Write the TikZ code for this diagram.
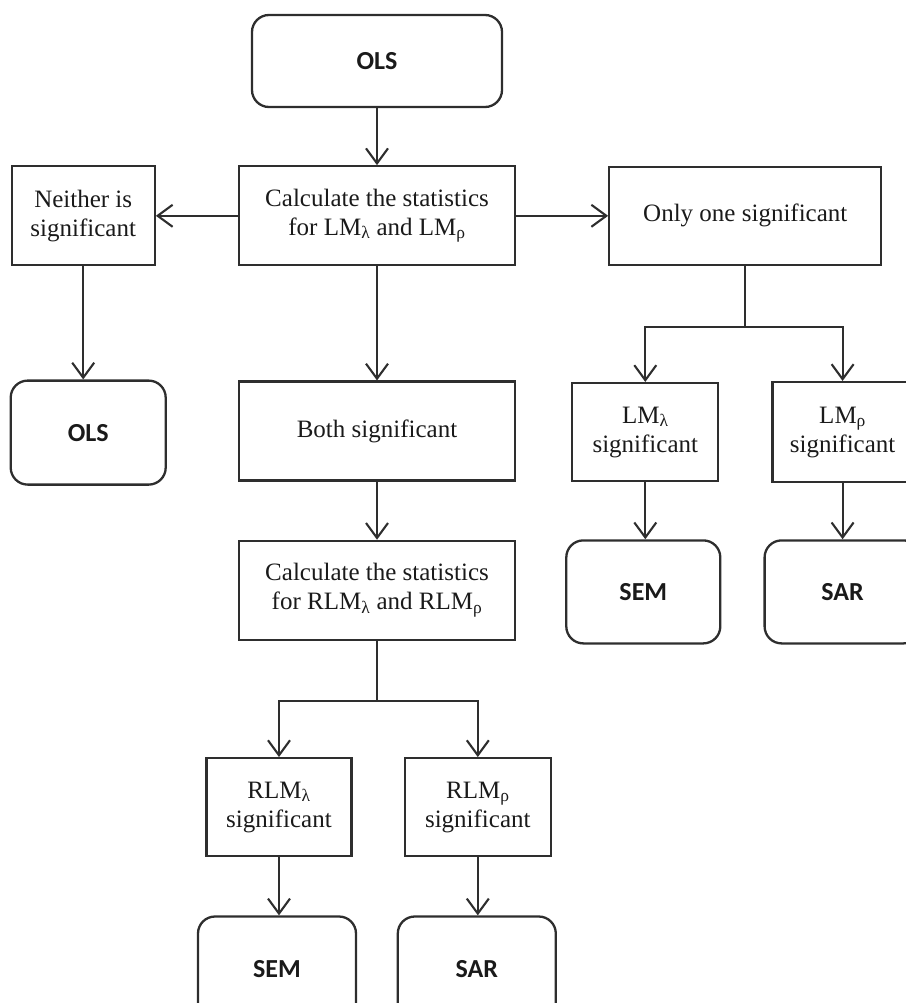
\documentclass[tikz,border=0pt]{standalone}
\usepackage{fontspec}
\setmainfont{Liberation Serif}
\newfontfamily\calibri{Carlito}
\usepackage{tikz}
\usetikzlibrary{arrows.meta, positioning, calc}
\usepackage{xcolor}
\definecolor{linegray}{HTML}{2E2E2E}
\definecolor{textgray}{HTML}{1A1A1A}

\begin{document}
\begin{tikzpicture}[
    x=1pt, y=1pt,
    every node/.style={font=\fontsize{25}{29}\selectfont, text=textgray},
    stepbox/.style={draw=linegray, line width=2.3pt, minimum width=#1, minimum height=99pt, align=center, inner sep=2pt},
    stepbox/.default=146pt,
    roundbox/.style={draw=linegray, line width=2.3pt, rounded corners=17pt, minimum width=#1, minimum height=104pt, align=center, font=\calibri\bfseries\fontsize{26}{30}\selectfont},
    roundbox/.default=156pt,
    arrow/.style={-{Straight Barb[length=15pt, width=22pt]}, draw=linegray, line width=2.1pt},
    branch/.style={draw=linegray, line width=2.1pt}
]
    \useasboundingbox (0,0) rectangle (905,-1003);

    % main column
    \node[roundbox=250pt, minimum height=92pt] (olsTop) at (377,-61) {OLS};
    \node[stepbox=276pt, below=57pt of olsTop] (calcLM) {Calculate the statistics\\for LM\textsubscript{λ} and LM\textsubscript{ρ}};
    \node[stepbox=143pt, left=82pt of calcLM] (neither) {Neither is\\significant};
    \node[stepbox=272pt, minimum height=98pt, right=92pt of calcLM] (onlyOne) {Only one significant};
    \node[roundbox=155pt, below=113pt of neither, xshift=5pt] (olsLeft) {OLS};
    \node[stepbox=276pt, below=114pt of calcLM] (both) {Both significant};
    \node[stepbox=276pt, below=58pt of both] (calcRLM) {Calculate the statistics\\for RLM\textsubscript{λ} and RLM\textsubscript{ρ}};

    % right branch
    \node[stepbox=146pt, minimum height=98pt, below=116pt of onlyOne, xshift=-100pt] (lmLam) {LM\textsubscript{λ}\\significant};
    \node[stepbox=140pt, minimum height=100pt, right=52pt of lmLam] (lmRho) {LM\textsubscript{ρ}\\significant};
    \node[roundbox=154pt, minimum height=103pt, below=57pt of lmLam, xshift=-2pt] (semRight) {SEM};
    \node[roundbox=156pt, minimum height=103pt, below=56pt of lmRho] (sarRight) {SAR};

    % bottom branch
    \node[stepbox=145pt, minimum height=98pt, below=116pt of calcRLM, xshift=-98pt] (rlmLam) {RLM\textsubscript{λ}\\significant};
    \node[stepbox=146pt, minimum height=98pt, right=51pt of rlmLam] (rlmRho) {RLM\textsubscript{ρ}\\significant};
    \node[roundbox=158pt, minimum height=106pt, below=58pt of rlmLam, xshift=-2pt] (semBottom) {SEM};
    \node[roundbox=158pt, minimum height=106pt, below=58pt of rlmRho, xshift=-1pt] (sarBottom) {SAR};

    \coordinate[below=61pt of onlyOne.south] (splitRight);
    \coordinate[below=60pt of calcRLM.south] (splitBottom);

    \draw[arrow] (olsTop) -- (calcLM);
    \draw[arrow] (calcLM) -- (neither);
    \draw[arrow] (calcLM) -- (onlyOne);
    \draw[arrow] (neither.south) -- (neither.south |- olsLeft.north);
    \draw[arrow] (calcLM) -- (both);
    \draw[arrow] (both) -- (calcRLM);

    \draw[branch] (onlyOne.south) -- (splitRight);
    \draw[arrow] (splitRight) -| (lmLam.north);
    \draw[arrow] (splitRight) -| (lmRho.north);
    \draw[arrow] (lmLam.south) -- (lmLam.south |- semRight.north);
    \draw[arrow] (lmRho.south) -- (lmRho.south |- sarRight.north);

    \draw[branch] (calcRLM.south) -- (splitBottom);
    \draw[arrow] (splitBottom) -| (rlmLam.north);
    \draw[arrow] (splitBottom) -| (rlmRho.north);
    \draw[arrow] (rlmLam.south) -- (rlmLam.south |- semBottom.north);
    \draw[arrow] (rlmRho.south) -- (rlmRho.south |- sarBottom.north);
\end{tikzpicture}
\end{document}
